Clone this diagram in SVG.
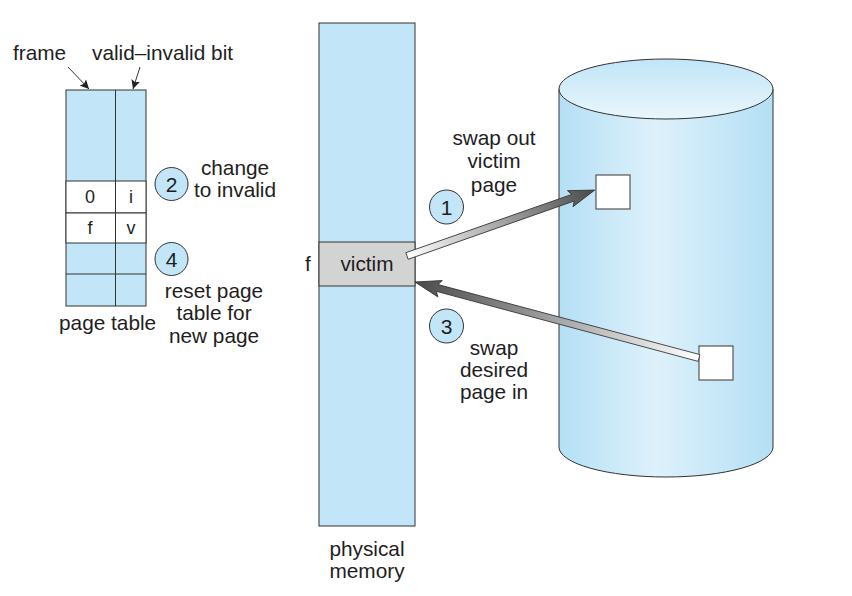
<svg xmlns="http://www.w3.org/2000/svg" width="852" height="596" viewBox="0 0 852 596">
  <defs>
    <style>
      text { font-family: "Liberation Sans", Arial, sans-serif; fill: #1e1e1e; }
      .lbl { font-size: 20.8px; }
      .cell { font-size: 18px; text-anchor: middle; }
      .mid { text-anchor: middle; }
      .blue { fill: #c2e6f8; stroke: #333; stroke-width: 1; }
      .white { fill: #fff; stroke: #333; stroke-width: 1; }
      .line { stroke: #333; stroke-width: 1; fill: none; }
      .step { fill: #c2e6f8; stroke: #333; stroke-width: 1; }
      .num { font-size: 21px; text-anchor: middle; }
      .block { fill: #fff; stroke: #555; stroke-width: 1.2; }
      .fat { stroke: #333; stroke-width: 0.8; }
    </style>
    <marker id="tip" viewBox="0 0 10 10" refX="10" refY="5" markerWidth="9" markerHeight="9" markerUnits="userSpaceOnUse" orient="auto">
      <path d="M0,0 L10,5 L0,10 L2,5 z" fill="#222"/>
    </marker>
    <linearGradient id="body" x1="0" y1="0" x2="1" y2="0">
      <stop offset="0" stop-color="#b4dff5"/>
      <stop offset="0.45" stop-color="#def1fb"/>
      <stop offset="1" stop-color="#b4dff5"/>
    </linearGradient>
    <linearGradient id="lid" x1="0" y1="0" x2="0" y2="1">
      <stop offset="0" stop-color="#c0e5f7"/>
      <stop offset="1" stop-color="#eaf6fc"/>
    </linearGradient>
    <linearGradient id="fade" x1="0" y1="0" x2="1" y2="0">
      <stop offset="0" stop-color="#ffffff"/>
      <stop offset="1" stop-color="#4a4a4a"/>
    </linearGradient>
  </defs>

  <rect width="852" height="596" fill="#fff"/>

  <!-- page table -->
  <g id="page-table">
    <rect class="blue" x="66" y="90" width="80" height="216"/>
    <rect class="white" x="66" y="181" width="80" height="32"/>
    <rect class="white" x="66" y="213" width="80" height="30"/>
    <line class="line" x1="66" y1="274" x2="146" y2="274"/>
    <line class="line" x1="115.5" y1="90" x2="115.5" y2="306"/>
    <text class="cell" x="90" y="203">0</text>
    <text class="cell" x="131" y="203">i</text>
    <text class="cell" x="90" y="234">f</text>
    <text class="cell" x="131" y="234">v</text>
    <text class="lbl" x="59" y="330">page table</text>
  </g>

  <g id="label-frame">
    <text class="lbl" x="13" y="60">frame</text>
  </g>
  <g id="label-valid">
    <text class="lbl" x="92" y="60">valid–invalid bit</text>
  </g>

  <!-- step 2 -->
  <g id="step2">
    <circle class="step" cx="171.5" cy="184" r="16.5"/>
    <text class="num" x="171.5" y="191.5">2</text>
    <text class="lbl mid" x="235" y="175">change</text>
    <text class="lbl mid" x="235" y="197">to invalid</text>
  </g>

  <!-- step 4 -->
  <g id="step4">
    <circle class="step" cx="171.5" cy="259" r="16.5"/>
    <text class="num" x="171.5" y="266.5">4</text>
    <text class="lbl mid" x="214" y="298">reset page</text>
    <text class="lbl mid" x="214" y="320">table for</text>
    <text class="lbl mid" x="214" y="343">new page</text>
  </g>

  <!-- physical memory -->
  <g id="physical-memory">
    <rect class="blue" x="319" y="23" width="96" height="503"/>
    <rect x="319" y="242" width="96" height="44" fill="#d3d3d3" stroke="#333" stroke-width="1"/>
    <text class="lbl mid" x="367" y="271">victim</text>
    <text class="lbl" x="305" y="271">f</text>
    <text class="lbl mid" x="367" y="556">physical</text>
    <text class="lbl mid" x="367" y="578">memory</text>
  </g>

  <!-- backing store -->
  <g id="backing-store">
    <path d="M559,89 L559,447 A107,30 0 0 0 773,447 L773,89 Z" fill="url(#body)" stroke="#333" stroke-width="1"/>
    <ellipse cx="666" cy="89" rx="107" ry="30" fill="url(#lid)" stroke="#333" stroke-width="1"/>
    <rect class="block" x="596" y="175" width="34" height="34"/>
    <rect class="block" x="699" y="346" width="34" height="34"/>
  </g>

  <!-- step 1 -->
  <g id="step1">
    <circle class="step" cx="446.5" cy="207" r="17"/>
    <text class="num" x="446.5" y="214.5">1</text>
    <text class="lbl mid" x="494" y="145">swap out</text>
    <text class="lbl mid" x="494" y="168">victim</text>
    <text class="lbl mid" x="494" y="192">page</text>
  </g>

  <!-- step 3 -->
  <g id="step3">
    <circle class="step" cx="446.5" cy="326" r="17"/>
    <text class="num" x="446.5" y="333.5">3</text>
    <text class="lbl mid" x="494" y="355">swap</text>
    <text class="lbl mid" x="494" y="377">desired</text>
    <text class="lbl mid" x="494" y="399">page in</text>
  </g>

  <!-- connectors -->
  <g id="connectors">
    <line class="line" x1="68" y1="67" x2="89" y2="89" marker-end="url(#tip)"/>
    <line class="line" x1="140" y1="67" x2="133" y2="89" marker-end="url(#tip)"/>
    <!-- swap out: victim frame to disk block -->
    <g transform="translate(407,256) rotate(-19.35)">
      <polygon class="fat" fill="url(#fade)" points="0,-3.5 176,-3.5 173,-8.5 199,0 173,8.5 176,3.5 0,3.5"/>
    </g>
    <!-- swap in: disk block to victim frame -->
    <g transform="translate(699,358) rotate(194.98)">
      <polygon class="fat" fill="url(#fade)" points="0,-3.5 271,-3.5 268,-8.5 294,0 268,8.5 271,3.5 0,3.5"/>
    </g>
  </g>
</svg>
